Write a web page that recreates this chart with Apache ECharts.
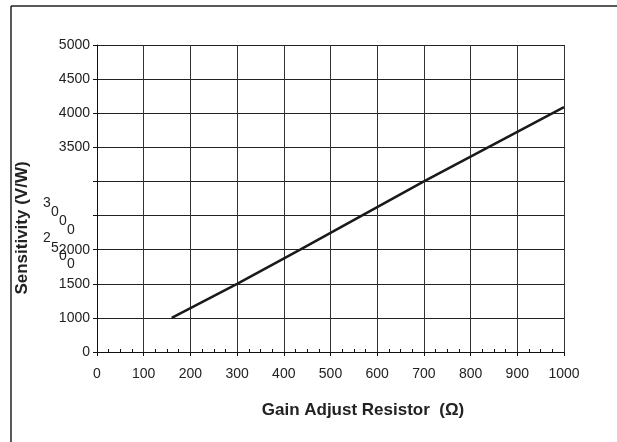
<!DOCTYPE html>
<html>
<head>
<meta charset="utf-8">
<script src="https://cdn.jsdelivr.net/npm/echarts@6/dist/echarts.min.js"></script>
<style>
  html, body { margin: 0; padding: 0; background: #fff; }
  #chart { width: 617px; height: 442px; }
</style>
</head>
<body>
<div id="chart"></div>
<script>
// resistor values (ohm) and sensitivity (V/W)
const resistor = [160, 300, 435, 700, 1000]
const sensitivity = [1000, 1500, 2000, 3000, 4090]

// y tick values and the labels the figure prints for them (bottom line is printed as 0)
const yTickValues = [500, 1000, 1500, 2000, 2500, 3000, 3500, 4000, 4500, 5000]
const yTickLabels = ['0', '1000', '1500', '2000', '', '', '3500', '4000', '4500', '5000']

// stray characters of the broken 3000 / 2500 labels
const strayChars = ['3', '0', '0', '0', '2', '5', '0', '0']
const strayPos = [[47, 203], [55, 212], [63, 221], [71, 230], [47, 238], [55, 248], [63, 256], [71, 264]]

const font = 'Liberation Sans, Arial, sans-serif'
const chart = echarts.init(document.getElementById('chart'))

const option = {
  animation: false,
  grid: { left: 97, right: 53, top: 45, bottom: 90, containLabel: false },
  xAxis: [
    {
      type: 'value',
      min: 0,
      max: 1000,
      interval: 100,
      axisLine: { show: true, lineStyle: { color: '#111', width: 1 } },
      axisTick: { show: true, length: 4, lineStyle: { color: '#111' } },
      axisLabel: { color: '#222', fontSize: 14, fontFamily: font, margin: 15, formatter: v => String(v) },
      splitLine: { show: true, lineStyle: { color: '#333', width: 1 } }
    },
    {
      // minor ticks pointing into the plot
      type: 'value',
      position: 'bottom',
      min: 0,
      max: 1000,
      interval: 100,
      axisLine: { show: false },
      axisTick: { show: false, inside: true },
      minorTick: { show: true, splitNumber: 4, length: 3, lineStyle: { color: '#111' } },
      axisLabel: { show: false },
      splitLine: { show: false }
    }
  ],
  yAxis: {
    type: 'value',
    min: 500,
    max: 5000,
    interval: 500,
    axisLine: { show: true, lineStyle: { color: '#111', width: 1 } },
    axisTick: { show: true, length: 4, lineStyle: { color: '#111' } },
    axisLabel: {
      color: '#222',
      fontSize: 14,
      fontFamily: font,
      margin: 7,
      formatter: v => yTickLabels[yTickValues.indexOf(v)] ?? ''
    },
    splitLine: { show: true, lineStyle: { color: '#222', width: 1 } }
  },
  graphic: [
    { type: 'line', shape: { x1: 11, y1: 6, x2: 11, y2: 442 }, style: { stroke: '#222', lineWidth: 1.5 } },
    { type: 'line', shape: { x1: 11, y1: 6, x2: 617, y2: 6 }, style: { stroke: '#222', lineWidth: 1.5 } },
    {
      type: 'text', x: 363, y: 410,
      style: { text: 'Gain Adjust Resistor  (Ω)', fill: '#222', font: 'bold 17px ' + font, textAlign: 'center', textVerticalAlign: 'middle' }
    },
    {
      type: 'text', x: 22, y: 228, rotation: Math.PI / 2,
      style: { text: 'Sensitivity (V/W)', fill: '#222', font: 'bold 17px ' + font, textAlign: 'center', textVerticalAlign: 'middle' }
    },
    ...strayChars.map((c, i) => ({
      type: 'text', x: strayPos[i][0], y: strayPos[i][1],
      style: { text: c, fill: '#222', font: '14px ' + font, textAlign: 'center', textVerticalAlign: 'middle' }
    }))
  ],
  series: [
    {
      type: 'line',
      data: resistor.map((r, i) => [r, sensitivity[i]]),
      showSymbol: false,
      lineStyle: { color: '#1a1a1a', width: 2.5 }
    }
  ]
}

chart.setOption(option)
</script>
</body>
</html>
